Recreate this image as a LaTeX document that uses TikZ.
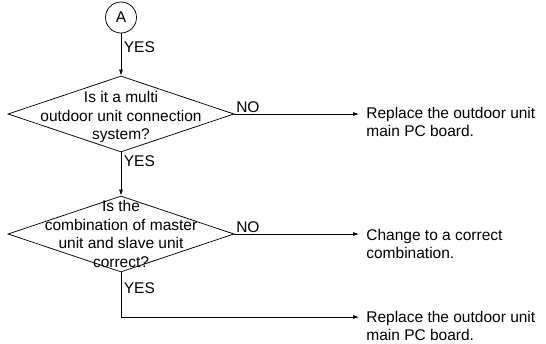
\documentclass[tikz,border=0pt]{standalone}
\usepackage{fontspec}
\setmainfont{Liberation Sans}
\usetikzlibrary{shapes.geometric,arrows.meta}
\tikzset{
  dec/.style={draw, diamond, minimum width=226pt, minimum height=76pt, inner sep=0pt},
  dtext/.style={align=center, inner sep=0pt},
  res/.style={anchor=west, align=left, inner xsep=7pt, inner ysep=0pt},
  lbl/.style={inner sep=1.5pt},
  flow/.style={-{Latex[length=6pt,width=4pt]}},
  every node/.style={font=\fontsize{15.5}{18.5}\selectfont},
}
\begin{document}
\begin{tikzpicture}[x=1pt,y=-1pt,line width=0.75pt]
\useasboundingbox (0,0) rectangle (546,343);
\node[draw, circle, minimum size=31pt, inner sep=0pt] (a) at (121,17.5) {A};
\node[dec] (d1) at (121,114) {};
\node[dtext] (t1) at (121,117) {Is it a multi\\outdoor unit connection\\system?};
\node[dec] (d2) at (121,234) {};
\node[dtext] (t2) at (121,234) {Is the\\combination of master\\unit and slave unit\\correct?};
\node[res] (r1) at (359,122) {Replace the outdoor unit\\main PC board.};
\node[res] (r2) at (359,244) {Change to a correct\\combination.};
\node[res] (r3) at (359,326) {Replace the outdoor unit\\main PC board.};
\coordinate (c3) at (121,317);
\draw[flow] (a) -- (d1.north);
\draw[flow] (d1.south) -- (d2.north);
\draw[flow] (d1.east) -- (d1.east -| r1.west);
\draw[flow] (d2.east) -- (d2.east -| r2.west);
\draw[flow] (d2.south) -- (c3) -- (c3 -| r3.west);
\node[lbl, anchor=west] (y1) at (122,47) {YES};
\node[lbl, anchor=west] (y2) at (122,161) {YES};
\node[lbl, anchor=west] (y3) at (122,288) {YES};
\node[lbl, anchor=south west, inner ysep=0.5pt] (n1) at (d1.east) {NO};
\node[lbl, anchor=south west, inner ysep=0.5pt] (n2) at (d2.east) {NO};
\end{tikzpicture}
\end{document}
